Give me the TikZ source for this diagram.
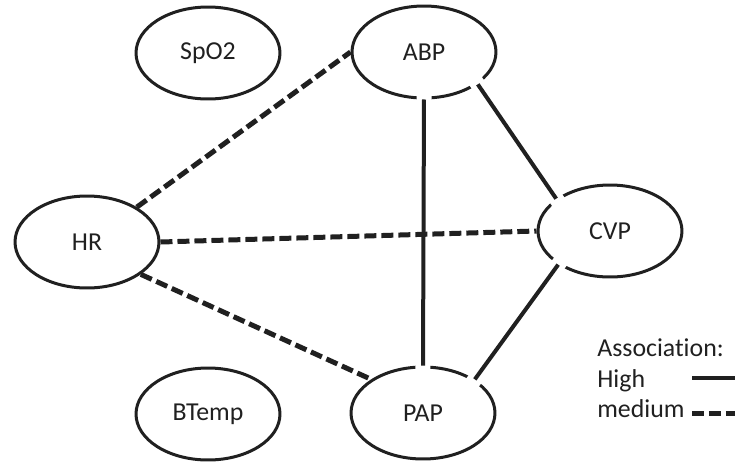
\documentclass[tikz,border=0pt]{standalone}
\usepackage{fontspec}
\setmainfont{Carlito}[Ligatures=NoCommon]
\usepackage{xcolor}
\usepackage{tikz}
\usetikzlibrary{shapes.geometric}
\definecolor{VitalInk}{RGB}{32, 32, 32}

\begin{document}
\begin{tikzpicture}[x=0.02cm, y=-0.02cm,
    vital/.style={ellipse, draw=VitalInk, line width=0.06cm, minimum width=2.88cm, minimum height=1.84cm, inner sep=0pt, text=VitalInk, font=\fontsize{14.7}{17}\selectfont},
    highlink/.style={draw=VitalInk, line width=0.08cm, preaction={draw=white, line width=0.3cm, shorten <=-0.1cm, shorten >=-0.1cm}},
    mediumlink/.style={draw=VitalInk, line width=0.1cm, dash pattern=on 0.24cm off 0.1cm},
    legendtext/.style={anchor=base west, inner sep=0pt, text=VitalInk, font=\fontsize{14.7}{17}\selectfont}]
    \useasboundingbox (0,0) rectangle (735,461);

    % Vital signs
    \node[vital] (SpO2) at (208,53) {SpO2};
    \node[vital] (ABP) at (424,52) {ABP};
    \node[vital] (HR) at (87,242) {HR};
    \node[vital] (CVP) at (610,231) {CVP};
    \node[vital] (BTemp) at (208,414) {BTemp};
    \node[vital] (PAP) at (423,413) {PAP};

    % High associations
    \draw[highlink] (ABP.south) -- (PAP.north);
    \draw[highlink] (ABP.-31) -- (CVP.149);
    \draw[highlink] (CVP.213) -- (PAP.33);

    % Medium associations
    \draw[mediumlink] (HR.35) -- (ABP.west);
    \draw[mediumlink] (HR.east) -- (CVP.west);
    \draw[mediumlink] (HR.-31) -- (PAP.147);

    % Legend
    \node[legendtext] (assoc) at (597,356) {Association:};
    \node[legendtext] (high) at (597,387) {High};
    \node[legendtext] (medium) at (597,417) {medium};
    \coordinate (highA) at (692,378);
    \coordinate (highB) at (735,378);
    \coordinate (mediumA) at (692,413);
    \coordinate (mediumB) at (735,413);
    \draw[highlink] (highA) -- (highB);
    \draw[mediumlink] (mediumA) -- (mediumB);
\end{tikzpicture}
\end{document}
